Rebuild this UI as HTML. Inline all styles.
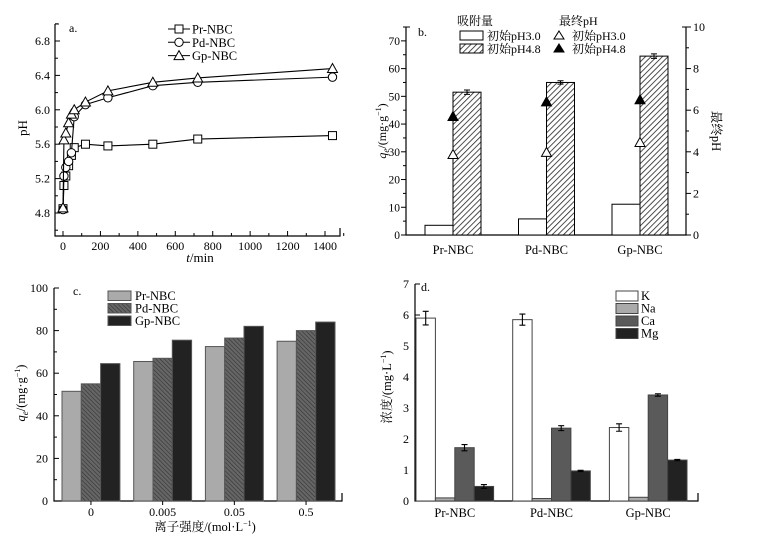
<!DOCTYPE html>
<html><head><meta charset="utf-8">
<style>
html,body{margin:0;padding:0;background:#fff;}
svg{display:block;font-family:"Liberation Serif","Noto Serif CJK SC",serif;}
</style></head>
<body>
<svg id="fig" width="762" height="540" viewBox="0 0 762 540">
<defs>
<pattern id="hatchB" patternUnits="userSpaceOnUse" width="4" height="4" patternTransform="rotate(45)">
<rect width="4" height="4" fill="#fff"/><line x1="0" y1="0" x2="0" y2="4" stroke="#222" stroke-width="1.6"/></pattern>
<pattern id="hatchC" patternUnits="userSpaceOnUse" width="3" height="3" patternTransform="rotate(-45)">
<rect width="3" height="3" fill="#666"/><line x1="0" y1="0" x2="0" y2="3" stroke="#333" stroke-width="1.2"/></pattern>
</defs>
<g id="pa"></g>
<g id="pb"></g>
<g id="pc"></g>
<g id="pd"></g>
</svg>
<script>
// Panel a data
const aTimes=[0,5,15,30,45,60,120,240,480,720,1440];
const aPr=[4.85,5.12,5.23,5.35,5.47,5.56,5.60,5.58,5.60,5.66,5.70];
const aPd=[4.84,5.23,5.33,5.40,5.50,5.92,6.06,6.14,6.28,6.32,6.38];
const aGp=[4.86,5.65,5.73,5.85,5.95,6.00,6.09,6.22,6.32,6.37,6.48];
const aXTicks=[0,200,400,600,800,1000,1200,1400];
const aYTicks=[4.8,5.2,5.6,6.0,6.4,6.8];
// Panel b data
const bCats=["Pr-NBC","Pd-NBC","Gp-NBC"];
const bQ30=[3.5,5.8,11.1];
const bQ48=[51.5,55.0,64.5];
const bQ48Err=[0.8,0.6,0.8];
const bPH30=[3.87,3.97,4.45];
const bPH48=[5.7,6.4,6.5];
const bYTicks=[0,10,20,30,40,50,60,70];
const bY2Ticks=[0,2,4,6,8,10];
// Panel c data
const cCats=["0","0.005","0.05","0.5"];
const cPr=[51.5,65.5,72.5,75];
const cPd=[55,67,76.5,80];
const cGp=[64.5,75.5,82,84];
const cYTicks=[0,20,40,60,80,100];
// Panel d data
const dCats=["Pr-NBC","Pd-NBC","Gp-NBC"];
const dK=[5.9,5.85,2.37];
const dKErr=[0.22,0.18,0.12];
const dNa=[0.1,0.08,0.12];
const dCa=[1.72,2.35,3.42];
const dCaErr=[0.1,0.08,0.04];
const dMg=[0.47,0.97,1.32];
const dMgErr=[0.06,0.02,0.02];
const dYTicks=[0,1,2,3,4,5,6,7];

const NS="http://www.w3.org/2000/svg";
function mk(parent,tag,attrs,text){const e=document.createElementNS(NS,tag);for(const k in attrs)e.setAttribute(k,attrs[k]);if(text!==undefined)e.textContent=text;parent.appendChild(e);return e;}
function lin(d0,d1,r0,r1){return v=>r0+(v-d0)*(r1-r0)/(d1-d0);}

// ---------- Panel a ----------
(function(){
const g=document.getElementById('pa');
const x=lin(0,1400,63,325), y=lin(4.8,6.8,213,41);
const L=55,R=340,T=24,B=236;
let ax=mk(g,'path',{d:`M${L},${T}V${B}H${R}V${B-8}`,fill:'none',stroke:'#000','stroke-width':1.2});


mk(g,'line',{x1:L,y1:T,x2:L+4,y2:T,stroke:'#000'});
mk(g,'line',{x1:R,y1:B,x2:R,y2:B-6,stroke:'#000'});
aXTicks.forEach(v=>{mk(g,'line',{x1:x(v),y1:B,x2:x(v),y2:B-5,stroke:'#000'});
 const t=mk(g,'text',{x:x(v),y:B+14,'text-anchor':'middle','font-size':12},v);
 
 
 mk(g,'line',{x1:x(v+100),y1:B,x2:x(v+100),y2:B-3,stroke:'#000'});});
aYTicks.forEach(v=>{mk(g,'line',{x1:L,y1:y(v),x2:L+5,y2:y(v),stroke:'#000'});
 mk(g,'line',{x1:L,y1:y(v+0.2),x2:L+3,y2:y(v+0.2),stroke:'#000'});
 const t=mk(g,'text',{x:L-5,y:y(v)+4,'text-anchor':'end','font-size':12},v.toFixed(1));
 
 });
mk(g,'line',{x1:L,y1:y(4.6),x2:L+3,y2:y(4.6),stroke:'#000'});
let t=mk(g,'text',{x:27,y:128,'text-anchor':'middle','font-size':13,transform:'rotate(-90 27 128)'},'pH');


t=mk(g,'text',{x:200,y:262,'text-anchor':'middle','font-size':13});
t.innerHTML='<tspan font-style="italic">t</tspan>/min';


t=mk(g,'text',{x:69,y:32,'font-size':12},'a.');


function marker(gg,kind,cx,cy){
 if(kind==='sq')return mk(gg,'rect',{x:cx-4,y:cy-4,width:8,height:8,fill:'#fff',stroke:'#000'});
 if(kind==='ci')return mk(gg,'circle',{cx:cx,cy:cy,r:4.2,fill:'#fff',stroke:'#000'});
 return mk(gg,'path',{d:`M${cx},${cy-5}L${cx+5},${cy+4}L${cx-5},${cy+4}Z`,fill:'#fff',stroke:'#000'});
}
const series=[[aPr,'sq','Pr-NBC'],[aPd,'ci','Pd-NBC'],[aGp,'tr','Gp-NBC']];
series.forEach((s,i)=>{
 const sg=mk(g,'g',{});
 
 
 mk(sg,'polyline',{points:aTimes.map((tt,j)=>x(tt)+','+y(s[0][j])).join(' '),fill:'none',stroke:'#000','stroke-width':1.1});
 aTimes.forEach((tt,j)=>{const m=marker(sg,s[1],x(tt),y(s[0][j]));
  
  });
 const ly=29+i*13.3;
 const lg=mk(g,'g',{});
 
 
 mk(lg,'line',{x1:168,y1:ly,x2:190,y2:ly,stroke:'#000'});
 marker(lg,s[1],179,ly);
 mk(lg,'text',{x:192,y:ly+4.5,'font-size':12.5},s[2]);
});
})();

// ---------- Panel b ----------
(function(){
const g=document.getElementById('pb');
const y=lin(0,75,235,27), y2=lin(0,10,235,27);
const L=406,R=686,T=27,B=235;
const cx=i=>453+i*93.5, bw=28;
mk(g,'path',{d:`M${L},${T}V${B}H${R}V${T}`,fill:'none',stroke:'#000','stroke-width':1.2});
mk(g,'line',{x1:L,y1:T,x2:L+4,y2:T,stroke:'#000'});
mk(g,'line',{x1:R,y1:T,x2:R-4,y2:T,stroke:'#000'});
bYTicks.forEach(v=>{mk(g,'line',{x1:L,y1:y(v),x2:L-5,y2:y(v),stroke:'#000'});
 mk(g,'line',{x1:L,y1:y(v+5),x2:L-3,y2:y(v+5),stroke:'#000'});
 const t=mk(g,'text',{x:L-6,y:y(v)+4,'text-anchor':'end','font-size':11.5},v);
 
 });
bY2Ticks.forEach(v=>{mk(g,'line',{x1:R,y1:y2(v),x2:R+5,y2:y2(v),stroke:'#000'});
 if(v<10)mk(g,'line',{x1:R,y1:y2(v+1),x2:R+3,y2:y2(v+1),stroke:'#000'});
 const t=mk(g,'text',{x:R+7,y:y2(v)+4,'font-size':12},v);
 
 });
bCats.forEach((c,i)=>{
 const b1=mk(g,'rect',{x:cx(i)-bw,y:y(bQ30[i]),width:bw,height:y(0)-y(bQ30[i]),fill:'#fff',stroke:'#000'});
 
 
 const b2=mk(g,'rect',{x:cx(i),y:y(bQ48[i]),width:bw,height:y(0)-y(bQ48[i]),fill:'url(#hatchB)',stroke:'#000'});
 
 
 const ex=cx(i)+bw/2,e0=y(bQ48[i]-bQ48Err[i]),e1=y(bQ48[i]+bQ48Err[i]);
 mk(g,'path',{d:`M${ex},${e0}V${e1}M${ex-3},${e0}H${ex+3}M${ex-3},${e1}H${ex+3}`,stroke:'#000',fill:'none'});
 let px=cx(i),py=y2(bPH30[i]);
 const m1=mk(g,'path',{d:`M${px},${py-5}L${px+5},${py+4}L${px-5},${py+4}Z`,fill:'#fff',stroke:'#000'});
 
 
 py=y2(bPH48[i]);
 const m2=mk(g,'path',{d:`M${px},${py-5}L${px+5},${py+4}L${px-5},${py+4}Z`,fill:'#000',stroke:'#000'});
 
 
 const t=mk(g,'text',{x:cx(i),y:254,'text-anchor':'middle','font-size':12.5},c);
 
 
});
let t=mk(g,'text',{x:418,y:36,'font-size':12},'b.');


t=mk(g,'text',{x:386,y:131,'text-anchor':'middle','font-size':12,transform:'rotate(-90 386 131)'});
t.innerHTML='<tspan font-style="italic">q</tspan><tspan font-style="italic" font-size="9" dy="3">e</tspan><tspan dy="-3">/(mg·g</tspan><tspan font-size="8" dy="-5">−1</tspan><tspan dy="5">)</tspan>';


t=mk(g,'text',{x:712,y:131,'text-anchor':'middle','font-size':12.5,transform:'rotate(90 712 131)'},'最终pH');


const lg=mk(g,'g',{'font-size':12});


mk(lg,'text',{x:457,y:25},'吸附量');
mk(lg,'text',{x:559,y:25},'最终pH');
mk(lg,'rect',{x:460,y:31,width:23,height:9,fill:'#fff',stroke:'#000'});
mk(lg,'rect',{x:460,y:44,width:23,height:9,fill:'url(#hatchB)',stroke:'#000'});
mk(lg,'text',{x:487,y:40},'初始pH3.0');
mk(lg,'text',{x:487,y:53},'初始pH4.8');
mk(lg,'path',{d:'M559,31L564,39L554,39Z',fill:'#fff',stroke:'#000'});
mk(lg,'path',{d:'M559,44L564,52L554,52Z',fill:'#000',stroke:'#000'});
mk(lg,'text',{x:572,y:40},'初始pH3.0');
mk(lg,'text',{x:572,y:53},'初始pH4.8');
})();

// ---------- Panel c ----------
(function(){
const g=document.getElementById('pc');
const y=lin(0,100,501,288);
const L=54,R=342,B=501;
const gx=i=>62+i*71.7, bw=19.3;
mk(g,'path',{d:`M${L},288V${B}H${R}V${B-8}`,fill:'none',stroke:'#000','stroke-width':1.2});
mk(g,'line',{x1:L,y1:288,x2:L+4,y2:288,stroke:'#000'});
cYTicks.forEach(v=>{mk(g,'line',{x1:L,y1:y(v),x2:L+5,y2:y(v),stroke:'#000'});
 if(v<100)mk(g,'line',{x1:L,y1:y(v+10),x2:L+3,y2:y(v+10),stroke:'#000'});
 const t=mk(g,'text',{x:L-6,y:y(v)+4,'text-anchor':'end','font-size':12},v);
 
 });
const sets=[[cPr,'#aaaaaa','pr'],[cPd,'url(#hatchC)','pd'],[cGp,'#222','gp']];
cCats.forEach((c,i)=>{
 sets.forEach((s,k)=>{
  const r=mk(g,'rect',{x:gx(i)+k*bw,y:y(s[0][i]),width:bw,height:y(0)-y(s[0][i]),fill:s[1],stroke:'#555'});
  
  
 });
 mk(g,'line',{x1:gx(i)+1.5*bw,y1:B,x2:gx(i)+1.5*bw,y2:B+4,stroke:'#000'});
 const t=mk(g,'text',{x:gx(i)+1.5*bw,y:516,'text-anchor':'middle','font-size':12},c);
 
 
});
let t=mk(g,'text',{x:73,y:295,'font-size':12},'c.');


t=mk(g,'text',{x:205,y:531,'text-anchor':'middle','font-size':12.5});
t.innerHTML='离子强度/(mol·L<tspan font-size="8" dy="-5">−1</tspan><tspan dy="5">)</tspan>';


t=mk(g,'text',{x:25,y:393,'text-anchor':'middle','font-size':12.5,transform:'rotate(-90 25 393)'});
t.innerHTML='<tspan font-style="italic">q</tspan><tspan font-style="italic" font-size="9" dy="3">e</tspan><tspan dy="-3">/(mg·g</tspan><tspan font-size="8" dy="-5">−1</tspan><tspan dy="5">)</tspan>';


const names=['Pr-NBC','Pd-NBC','Gp-NBC'];
sets.forEach((s,k)=>{
 const lg=mk(g,'g',{});
 
 
 mk(lg,'rect',{x:108,y:291+k*12.5,width:23,height:9.5,fill:s[1],stroke:'#555'});
 mk(lg,'text',{x:135,y:300+k*12.5,'font-size':12.5},names[k]);
});
})();

// ---------- Panel d ----------
(function(){
const g=document.getElementById('pd');
const y=lin(0,7,501,284);
const L=415,R=698,B=501;
const gx=i=>416+i*96.7, bw=19.4;
mk(g,'path',{d:`M${L},284V${B}H${R}V${B-8}`,fill:'none',stroke:'#000','stroke-width':1.2});
mk(g,'line',{x1:L,y1:284,x2:L+4,y2:284,stroke:'#000'});
dYTicks.forEach(v=>{mk(g,'line',{x1:L,y1:y(v),x2:L+5,y2:y(v),stroke:'#000'});
 const t=mk(g,'text',{x:L-6,y:y(v)+4,'text-anchor':'end','font-size':12},v);
 
 });
const sets=[[dK,dKErr,'#fff','k','K'],[dNa,null,'#aaaaaa','na','Na'],[dCa,dCaErr,'#5a5a5a','ca','Ca'],[dMg,dMgErr,'#222','mg','Mg']];
dCats.forEach((c,i)=>{
 sets.forEach((s,k)=>{
  const bx=gx(i)+k*bw;
  const r=mk(g,'rect',{x:bx,y:y(s[0][i]),width:bw,height:y(0)-y(s[0][i]),fill:s[2],stroke:'#444'});
  
  
  if(s[1]){const ex=bx+bw/2,e0=y(s[0][i]-s[1][i]),e1=y(s[0][i]+s[1][i]);
   mk(g,'path',{d:`M${ex},${e0}V${e1}M${ex-3},${e0}H${ex+3}M${ex-3},${e1}H${ex+3}`,stroke:'#000',fill:'none','stroke-width':1.1});}
 });
 const t=mk(g,'text',{x:gx(i)+2*bw,y:517,'text-anchor':'middle','font-size':12.5},c);
 
 
});
let t=mk(g,'text',{x:421,y:291,'font-size':12},'d.');


t=mk(g,'text',{x:391,y:387,'text-anchor':'middle','font-size':12.5,transform:'rotate(-90 391 387)'});
t.innerHTML='浓度/(mg·L<tspan font-size="8" dy="-5">−1</tspan><tspan dy="5">)</tspan>';


sets.forEach((s,k)=>{
 const lg=mk(g,'g',{});
 
 
 mk(lg,'rect',{x:616,y:291+k*12.5,width:22,height:10,fill:s[2],stroke:'#444'});
 mk(lg,'text',{x:641,y:300+k*12.5,'font-size':12.5},s[4]);
});
})();
</script>
</body></html>
